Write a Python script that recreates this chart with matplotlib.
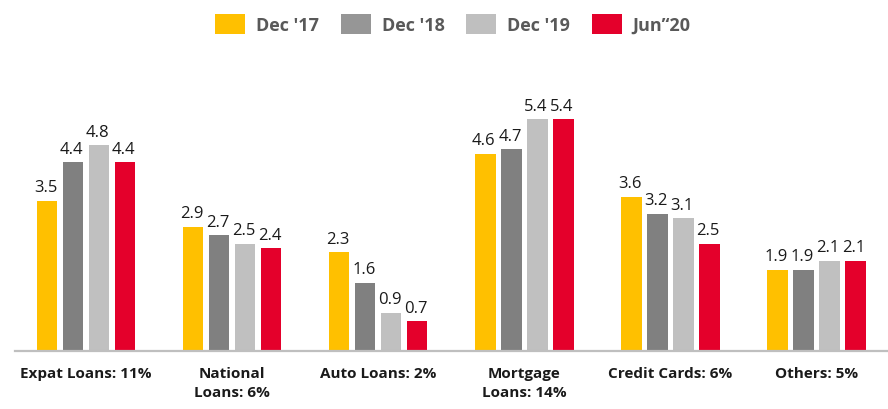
import numpy as np
import matplotlib.pyplot as plt
from matplotlib.patches import Patch

categories = ['Expat Loans: 11%', 'National\nLoans: 6%', 'Auto Loans: 2%',
              'Mortgage\nLoans: 14%', 'Credit Cards: 6%', 'Others: 5%']
series_names = ["Dec '17", "Dec '18", "Dec '19", "Jun\u2019\u201820"]
dec17 = [3.5, 2.9, 2.3, 4.6, 3.6, 1.9]
dec18 = [4.4, 2.7, 1.6, 4.7, 3.2, 1.9]
dec19 = [4.8, 2.5, 0.9, 5.4, 3.1, 2.1]
jun20 = [4.4, 2.4, 0.7, 5.4, 2.5, 2.1]

colors = ['#FFC000', '#808080', '#C0C0C0', '#E4002B']
legend_colors = ['#FFC000', '#969696', '#BFBFBF', '#E4002B']

plt.rcParams['font.family'] = ['Open Sans', 'DejaVu Sans']

fig = plt.figure(figsize=(8.88, 4.10), dpi=100)
ax = fig.add_axes([0.017, 0.141, 0.983, 0.712])

x = np.arange(len(categories))
pitch = 0.178
width = 0.14
for i, vals in enumerate([dec17, dec18, dec19, jun20]):
    pos = x + (i - 1.5) * pitch
    bars = ax.bar(pos, vals, width=width, color=colors[i], zorder=2)
    for b, v in zip(bars, vals):
        ax.annotate(f'{v:.1f}', (b.get_x() + b.get_width() / 2, v),
                    xytext=(-1, 4), textcoords='offset points',
                    ha='center', va='bottom', fontsize=12, color='#1a1a1a')

ax.set_xlim(-0.486, 5.49)
ax.set_ylim(0, 6.8)
ax.set_xticks(x)
ax.set_xticklabels(categories, fontsize=11, fontweight='bold', color='#1a1a1a',
                   linespacing=1.45)
ax.tick_params(axis='x', length=0, pad=11)
ax.set_yticks([])
for s in ['top', 'right', 'left']:
    ax.spines[s].set_visible(False)
ax.spines['bottom'].set_color('#BFBFBF')
ax.spines['bottom'].set_linewidth(1.6)

handles = [Patch(facecolor=c) for c in legend_colors]
leg = fig.legend(handles, series_names, loc='center', bbox_to_anchor=(0.51, 0.939),
                 ncol=4, frameon=False, handlelength=1.66, handleheight=1.28,
                 handletextpad=0.6, columnspacing=1.2,
                 prop={'size': 13, 'weight': 'bold'})
for t in leg.get_texts():
    t.set_color('#595959')

fig.savefig('out.png', dpi=100)
